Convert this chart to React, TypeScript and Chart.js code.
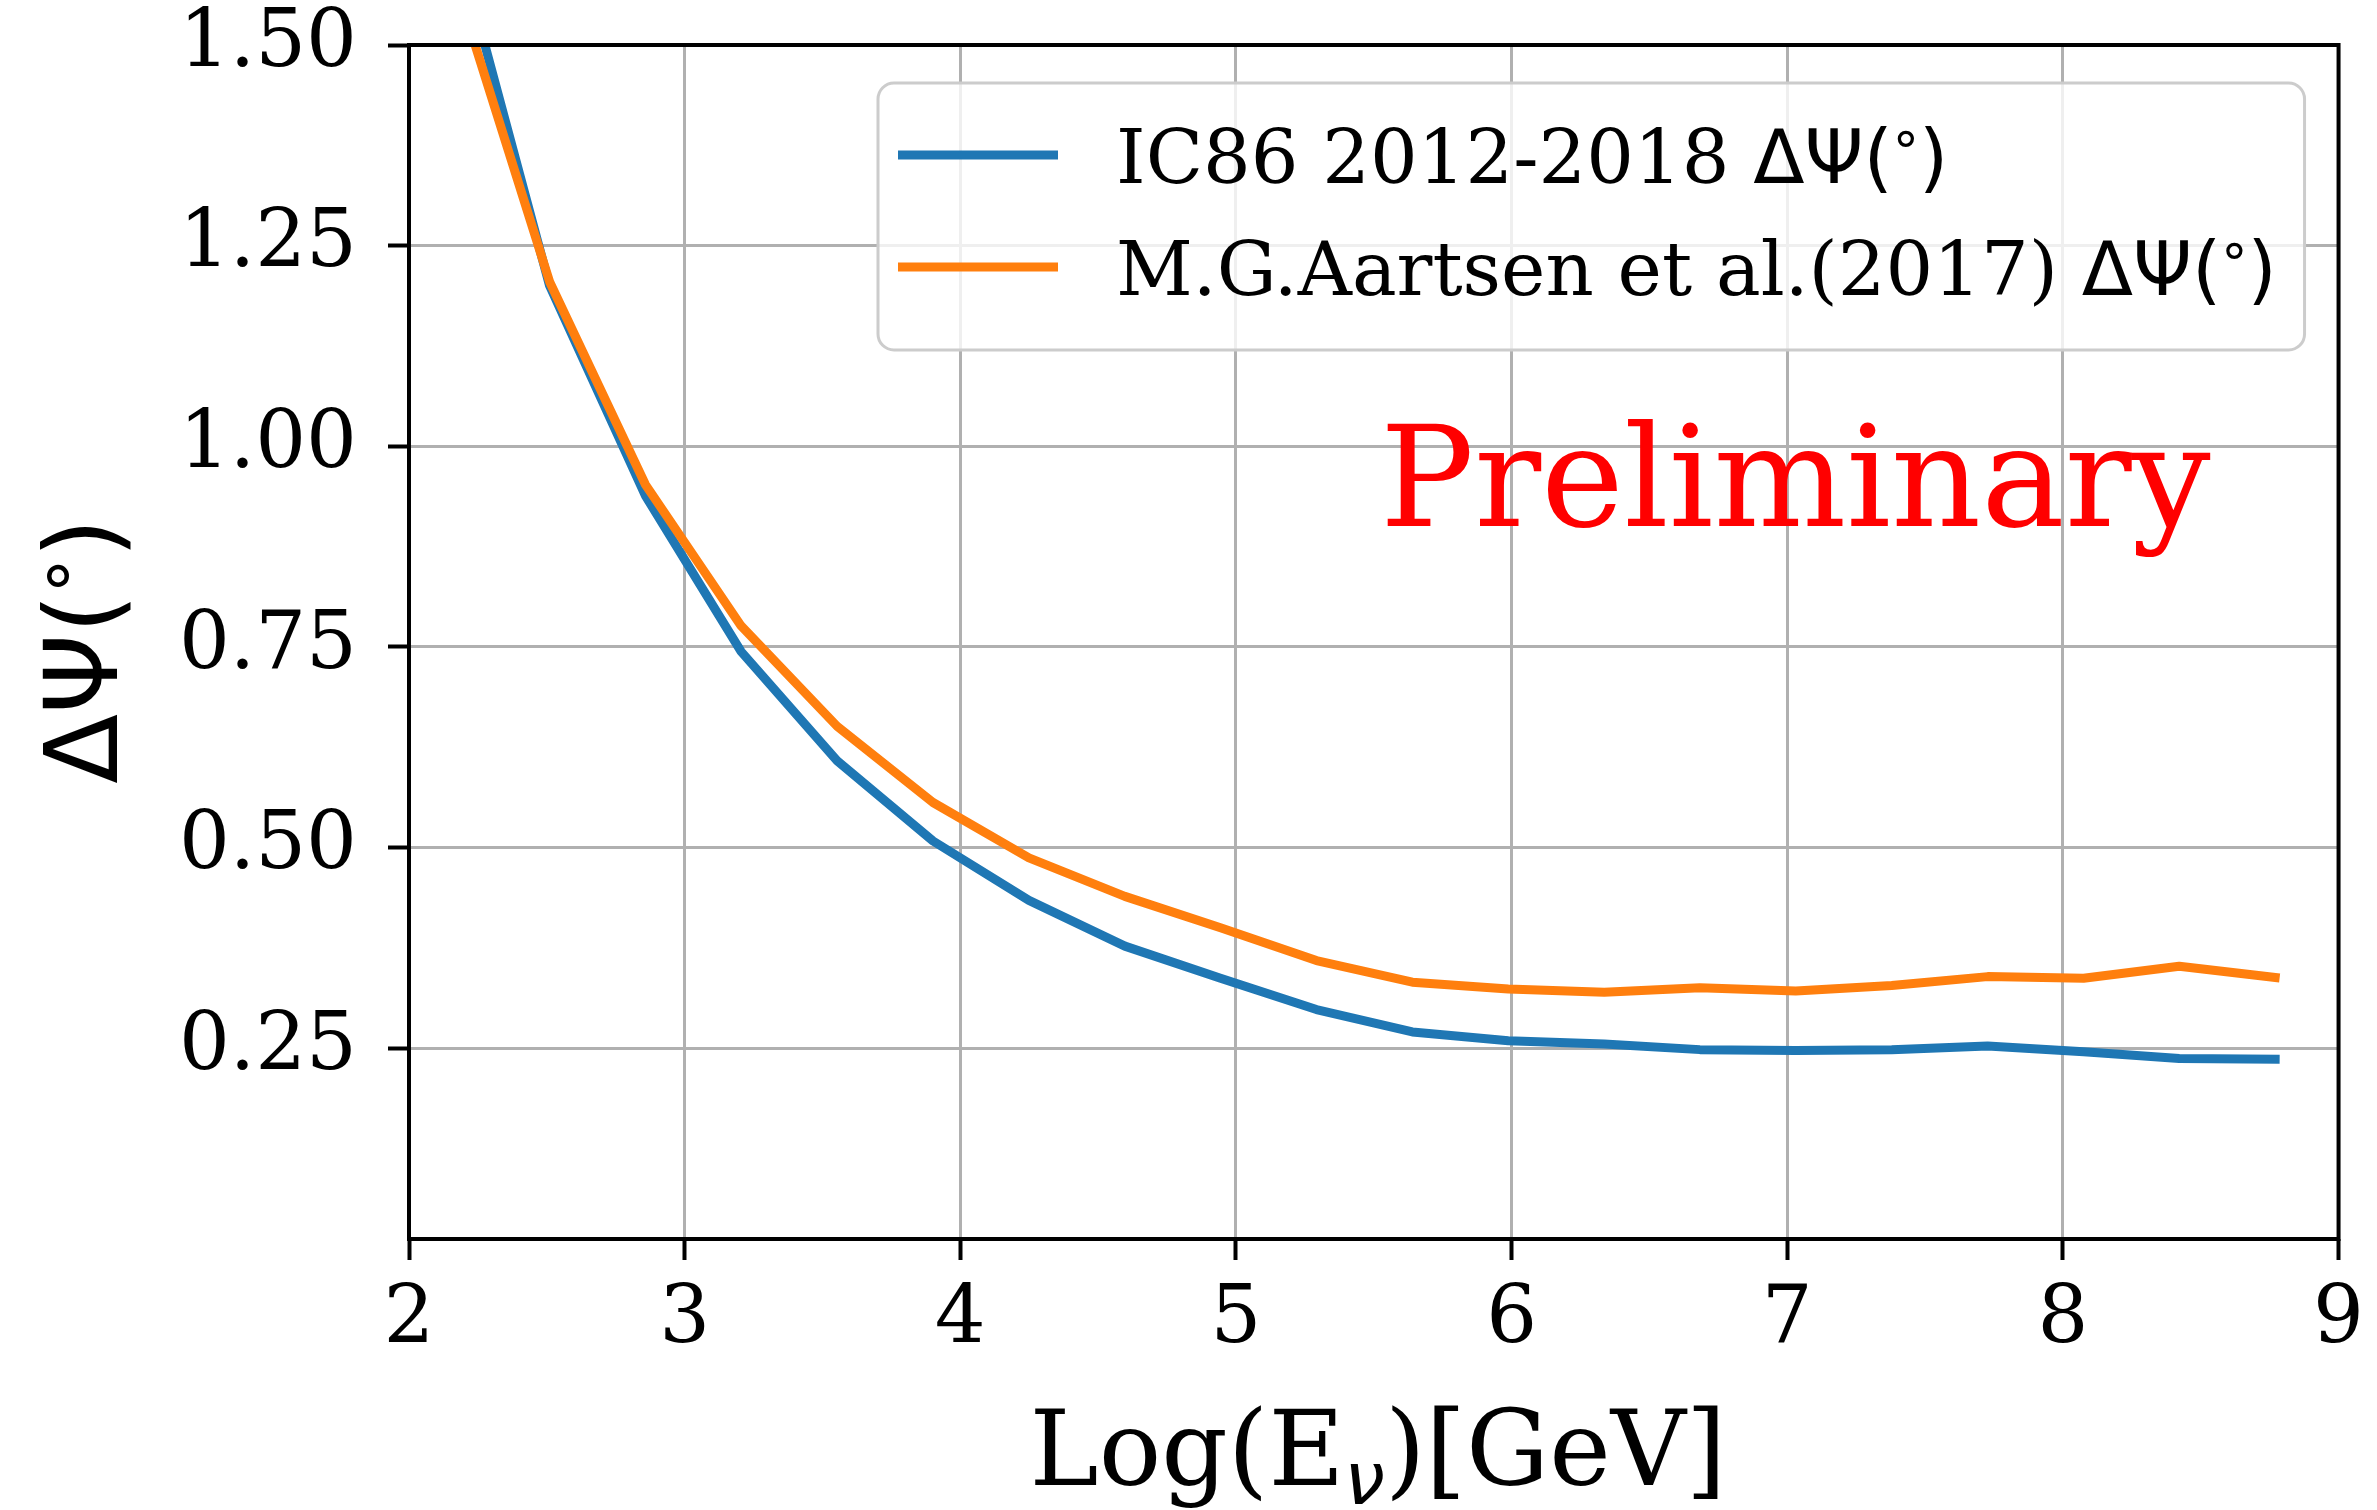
import React, { useEffect, useRef } from "react";
import { Chart, registerables } from "chart.js";

Chart.register(...registerables);

// ---- data ----
const logE = [2.162, 2.51, 2.858, 3.205, 3.553, 3.901, 4.249, 4.597, 4.944, 5.292, 5.64, 5.988, 6.336, 6.683, 7.031, 7.379, 7.727, 8.075, 8.422, 8.77];
const ic86 = [1.645, 1.2, 0.938, 0.744, 0.608, 0.508, 0.434, 0.377, 0.337, 0.298, 0.27, 0.259, 0.255, 0.248, 0.247, 0.248, 0.2525, 0.2455, 0.237, 0.236];
const aartsen = [1.585, 1.205, 0.952, 0.776, 0.651, 0.556, 0.487, 0.439, 0.4, 0.359, 0.332, 0.3235, 0.3195, 0.325, 0.321, 0.328, 0.339, 0.337, 0.352, 0.338];
const xTicks = [2, 3, 4, 5, 6, 7, 8, 9];
const yTicks = [0.25, 0.5, 0.75, 1.0, 1.25, 1.5];
const seriesNames = ["IC86 2012-2018 ", "M.G.Aartsen et al.(2017) "];
const watermark = "Preliminary";

const BLUE = "#1f77b4";
const ORANGE = "#ff7f0e";
const SERIF = '"DejaVu Serif", "Liberation Serif", serif';
const SANS = '"DejaVu Sans", "Liberation Sans", sans-serif';

type Seg = { t: string; f: string; s: number; dy?: number; style?: string };

function drawSegs(ctx: CanvasRenderingContext2D, segs: Seg[], x: number, y: number, draw = true): number {
  let cx = x;
  for (const sg of segs) {
    ctx.font = `${sg.style ? sg.style + " " : ""}${sg.s}px ${sg.f}`;
    if (draw) ctx.fillText(sg.t, cx, y + (sg.dy || 0));
    cx += ctx.measureText(sg.t).width;
  }
  return cx - x;
}

function psiDeg(S: number): Seg[] {
  return [
    { t: "ΔΨ(", f: SANS, s: S },
    { t: "°", f: SANS, s: 0.7 * S, dy: -0.17 * S },
    { t: ")", f: SANS, s: S },
  ];
}

const overlayPlugin = {
  id: "overlay",
  beforeDraw(chart: any) {
    const ctx = chart.ctx;
    ctx.save();
    ctx.fillStyle = "#ffffff";
    ctx.fillRect(0, 0, chart.width, chart.height);
    ctx.restore();
  },
  afterDatasetsDraw(chart: any) {
    const ctx: CanvasRenderingContext2D = chart.ctx;
    const ca = chart.chartArea;
    ctx.save();
    ctx.textBaseline = "alphabetic";
    ctx.textAlign = "left";

    // Preliminary watermark
    ctx.fillStyle = "#ff0000";
    ctx.font = `140px ${SERIF}`;
    ctx.fillText(watermark, ca.left + 971, ca.top + 481);

    // frame (spines)
    ctx.strokeStyle = "#000000";
    ctx.lineWidth = 4;
    ctx.strokeRect(ca.left, ca.top, ca.right - ca.left, ca.bottom - ca.top);

    // legend
    const lx0 = ca.left + 469;
    const ly0 = ca.top + 38;
    const lx1 = ca.right - 34;
    const ly1 = ca.top + 305;
    const r = 16;
    ctx.beginPath();
    ctx.moveTo(lx0 + r, ly0);
    ctx.lineTo(lx1 - r, ly0);
    ctx.arcTo(lx1, ly0, lx1, ly0 + r, r);
    ctx.lineTo(lx1, ly1 - r);
    ctx.arcTo(lx1, ly1, lx1 - r, ly1, r);
    ctx.lineTo(lx0 + r, ly1);
    ctx.arcTo(lx0, ly1, lx0, ly1 - r, r);
    ctx.lineTo(lx0, ly0 + r);
    ctx.arcTo(lx0, ly0, lx0 + r, ly0, r);
    ctx.closePath();
    ctx.fillStyle = "rgba(255,255,255,0.8)";
    ctx.fill();
    ctx.strokeStyle = "#cccccc";
    ctx.lineWidth = 3;
    ctx.stroke();

    const colors = [BLUE, ORANGE];
    const rowsY = [ly0 + 72, ly0 + 184];
    const S = 75;
    for (let i = 0; i < 2; i++) {
      ctx.strokeStyle = colors[i];
      ctx.lineWidth = 9;
      ctx.lineCap = "butt";
      ctx.beginPath();
      ctx.moveTo(lx0 + 20, rowsY[i]);
      ctx.lineTo(lx0 + 180, rowsY[i]);
      ctx.stroke();
      ctx.fillStyle = "#000000";
      const segs: Seg[] = [{ t: seriesNames[i], f: SERIF, s: S }, ...psiDeg(S)];
      drawSegs(ctx, segs, lx0 + 238, rowsY[i] + 28);
    }

    // x title
    const XS = 104;
    const xsegs: Seg[] = [
      { t: "Log(E", f: SERIF, s: XS },
      { t: "ν", f: SANS, s: 0.7 * XS, dy: 0.18 * XS, style: "italic" },
      { t: ")[GeV]", f: SERIF, s: XS },
    ];
    ctx.fillStyle = "#000000";
    const xw = drawSegs(ctx, xsegs, 0, 0, false);
    drawSegs(ctx, xsegs, 1378 - xw / 2, 1485);

    // y title
    const YS = 102;
    const ysegs = psiDeg(YS);
    const yw = drawSegs(ctx, ysegs, 0, 0, false);
    ctx.translate(117, 651);
    ctx.rotate(-Math.PI / 2);
    drawSegs(ctx, ysegs, -yw / 2, 0);
    ctx.restore();
  },
};

export default function App() {
  const ref = useRef<HTMLCanvasElement | null>(null);
  useEffect(() => {
    if (!ref.current) return;
    const chart = new Chart(ref.current, {
      type: "line",
      data: {
        datasets: [
          {
            label: seriesNames[0],
            data: logE.map((x, i) => ({ x, y: ic86[i] })),
            borderColor: BLUE,
            backgroundColor: BLUE,
            borderWidth: 9,
            pointRadius: 0,
            tension: 0,
            fill: false,
            clip: 0,
            order: 1,
            borderJoinStyle: "round",
            borderCapStyle: "square",
          },
          {
            label: seriesNames[1],
            data: logE.map((x, i) => ({ x, y: aartsen[i] })),
            borderColor: ORANGE,
            backgroundColor: ORANGE,
            borderWidth: 9,
            pointRadius: 0,
            tension: 0,
            fill: false,
            clip: 0,
            order: 0,
            borderJoinStyle: "round",
            borderCapStyle: "square",
          },
        ],
      },
      options: {
        responsive: false,
        devicePixelRatio: 1,
        animation: false,
        layout: { padding: { left: 0, right: 35, top: 45, bottom: 0 } },
        plugins: { legend: { display: false }, tooltip: { enabled: false }, title: { display: false } },
        scales: {
          x: {
            type: "linear",
            min: 2,
            max: 9,
            afterBuildTicks: (s: any) => {
              s.ticks = xTicks.map((v) => ({ value: v }));
            },
            afterFit: (s: any) => {
              s.height = 1510 - 1239;
            },
            ticks: {
              autoSkip: false,
              maxRotation: 0,
              minRotation: 0,
              color: "#000000",
              padding: 13,
              font: { family: SERIF, size: 80 },
              callback: (v: any) => String(v),
            },
            grid: { color: "#b0b0b0", lineWidth: 3, tickLength: 21, tickColor: "#000000", tickWidth: 4 },
            border: { display: false },
          },
          y: {
            type: "linear",
            min: 0.012,
            max: 1.5,
            afterBuildTicks: (s: any) => {
              s.ticks = yTicks.map((v) => ({ value: v }));
            },
            afterFit: (s: any) => {
              s.width = 409;
            },
            ticks: {
              autoSkip: false,
              color: "#000000",
              padding: 31,
              font: { family: SERIF, size: 80, lineHeight: 0.3 },
              callback: (v: any) => Number(v).toFixed(2),
            },
            grid: { color: "#b0b0b0", lineWidth: 3, tickLength: 21, tickColor: "#000000", tickWidth: 4 },
            border: { display: false },
          },
        },
      },
      plugins: [overlayPlugin],
    } as any);
    return () => chart.destroy();
  }, []);

  return (
    <div style={{ position: "fixed", left: 0, top: 0, width: 2377, height: 1510, background: "#fff" }}>
      <canvas ref={ref} width={2377} height={1510} style={{ display: "block", width: 2377, height: 1510 }} />
    </div>
  );
}
